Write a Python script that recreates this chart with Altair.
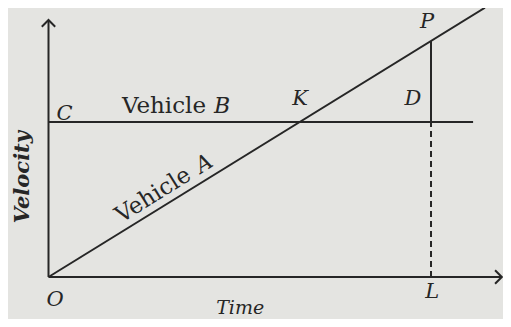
import altair as alt
import pandas as pd

# ---- diagram values (time, velocity units) ----
vehicle_a_time = [0.0, 11.41]        # vehicle A starts from rest, uniform acceleration
vehicle_a_velocity = [0.0, 7.04]
vehicle_b_time = [0.0, 11.10]        # vehicle B moves with constant velocity
vehicle_b_velocity = [4.05, 4.05]
l_time = 10.0                        # time instant L
p_velocity = 6.17                    # velocity of A at L (point P)
d_velocity = 4.05                    # velocity of B at L (point D)
axis_time_max = 11.85
axis_velocity_max = 6.72

point_names = ["C", "K", "D", "P", "O", "L"]
point_time = [0.42, 6.58, 9.53, 9.90, 0.17, 10.03]
point_velocity = [4.26, 4.65, 4.65, 6.67, -0.60, -0.39]

INK = "#262626"
FONT = "DejaVu Serif"

xs = alt.Scale(domain=[-1.0588, 11.882], nice=False, zero=False)
ys = alt.Scale(domain=[-1.098, 7.0327], nice=False, zero=False)

segments = pd.DataFrame({
    "t": [0.0, 0.0, vehicle_a_time[0], vehicle_b_time[0], l_time],
    "v": [0.0, 0.0, vehicle_a_velocity[0], vehicle_b_velocity[0], d_velocity],
    "t2": [axis_time_max, 0.0, vehicle_a_time[1], vehicle_b_time[1], l_time],
    "v2": [0.0, axis_velocity_max, vehicle_a_velocity[1], vehicle_b_velocity[1], p_velocity],
})
dashed = pd.DataFrame({"t": [l_time], "v": [0.0], "t2": [l_time], "v2": [d_velocity]})

X = lambda f: alt.X(f, type="quantitative", scale=xs, axis=None)
Y = lambda f: alt.Y(f, type="quantitative", scale=ys, axis=None)

solid_rules = alt.Chart(segments).mark_rule(color=INK, strokeWidth=2).encode(
    x=X("t"), y=Y("v"), x2="t2", y2="v2")
dash_rule = alt.Chart(dashed).mark_rule(color=INK, strokeWidth=2, strokeDash=[6, 4]).encode(
    x=X("t"), y=Y("v"), x2="t2", y2="v2")

up_arrow = alt.Chart(pd.DataFrame({"t": [0.0], "v": [axis_velocity_max]})).mark_point(
    shape="M-1,1L0,0L1,1", size=180, filled=False, color=INK, strokeWidth=2, opacity=1
).encode(x=X("t"), y=Y("v"))
right_arrow = alt.Chart(pd.DataFrame({"t": [axis_time_max], "v": [0.0]})).mark_point(
    shape="M-1,-1L0,0L-1,1", size=180, filled=False, color=INK, strokeWidth=2, opacity=1
).encode(x=X("t"), y=Y("v"))

points = alt.Chart(pd.DataFrame({"name": point_names, "t": point_time, "v": point_velocity})).mark_text(
    font=FONT, fontStyle="italic", fontSize=21, color=INK, align="center", baseline="middle"
).encode(x=X("t"), y=Y("v"), text="name:N")

lab_b = pd.DataFrame({"t": [1.92], "v": [4.29]})
veh_b = alt.Chart(lab_b).mark_text(
    text="Vehicle", font=FONT, fontSize=23, color=INK, align="left",
    baseline="alphabetic"
).encode(x=X("t"), y=Y("v"))
veh_b_letter = alt.Chart(lab_b).mark_text(
    text="B", font=FONT, fontStyle="italic", fontSize=22, color=INK, align="left",
    baseline="alphabetic", dx=92
).encode(x=X("t"), y=Y("v"))

lab_a = pd.DataFrame({"t": [1.90], "v": [1.40]})
veh_a = alt.Chart(lab_a).mark_text(
    text="Vehicle", font=FONT, fontSize=23, color=INK, align="left",
    baseline="alphabetic", angle=328
).encode(x=X("t"), y=Y("v"))
veh_a_letter = alt.Chart(lab_a).mark_text(
    text="A", font=FONT, fontStyle="italic", fontSize=22, color=INK, align="left",
    baseline="alphabetic", angle=328, dx=94
).encode(x=X("t"), y=Y("v"))

time_title = alt.Chart(pd.DataFrame({"t": [5.01], "v": [-0.80]})).mark_text(
    text="Time", font=FONT, fontStyle="italic", fontSize=19, color=INK,
    align="center", baseline="middle"
).encode(x=X("t"), y=Y("v"))
vel_title = alt.Chart(pd.DataFrame({"t": [-0.67], "v": [2.61]})).mark_text(
    text="Velocity", font=FONT, fontStyle="italic", fontWeight="bold", fontSize=21, color=INK,
    align="center", baseline="middle", angle=270
).encode(x=X("t"), y=Y("v"))

chart = alt.layer(
    solid_rules, dash_rule, up_arrow, right_arrow, points,
    veh_b, veh_b_letter, veh_a, veh_a_letter, time_title, vel_title
).properties(
    width=495, height=311, padding=0, autosize=alt.AutoSizeParams(type="none"),
    background="#e4e4e1"
).configure_view(stroke=None)

chart.save("out.html", embed_options={"renderer": "svg", "actions": False})
